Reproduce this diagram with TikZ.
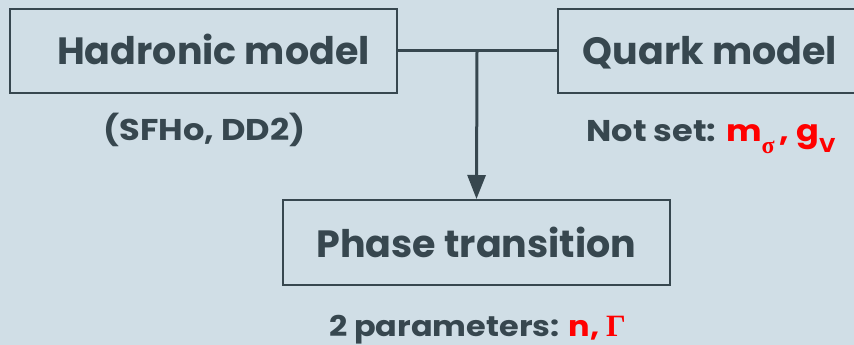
\documentclass[tikz,border=0pt]{standalone}
\usepackage{fontspec}
\setmainfont{Poppins}
\newfontfamily\notefont{Poppins}[FakeStretch=1.12]
\newfontfamily\grk{Liberation Serif}
\usetikzlibrary{arrows.meta}
\definecolor{bg}{HTML}{D0DEE6}
\definecolor{ink}{HTML}{37474F}
\definecolor{hl}{HTML}{FF0000}
\tikzset{
  box/.style={draw=ink, line width=2pt, rectangle, inner sep=0pt, text=ink},
  title/.style={text=ink, font=\fontsize{38}{40}\selectfont\bfseries, inner sep=0pt, anchor=base},
  note/.style={text=ink, font=\notefont\fontsize{30}{32}\selectfont\bfseries, inner sep=0pt, anchor=base},
  conn/.style={draw=ink, line width=3pt},
}
\begin{document}
\begin{tikzpicture}[x=1pt,y=-1pt]
\useasboundingbox (0,0) rectangle (854,345);
\fill[bg] (0,0) rectangle (854,345);
\begin{scope}
\clip (0,0) rectangle (854,345);
\node[box, minimum width=387pt, minimum height=84pt] (had) at (203.5,51) {};
\node[title] (hadt) at (213.5,65) {Hadronic model};
\node[box, minimum width=304pt, minimum height=84pt] (quark) at (710,51) {};
\node[title] (quarkt) at (710,65) {Quark model};
\node[box, minimum width=387pt, minimum height=85pt] (phase) at (476.5,242.5) {};
\node[title] (phaset) at (476.5,257) {Phase transition};
\coordinate (j) at (477,51);
\draw[conn] (had.east) -- (quark.west);
\draw[conn, -{Triangle[width=18pt,length=24pt]}] (j) -- (phase.north);
\node[note] (hadn) at (204.5,140) {(SFHo, DD2)};
\node[note] (quarkn) at (711,141) {Not set: \textcolor{hl}{m\raisebox{-12pt}{\fontsize{24}{24}\grk\bfseries σ}\kern5pt, g\raisebox{-11pt}{\fontsize{20}{20}\selectfont V}}};
\node[note, font=\notefont\fontsize{28.5}{30}\selectfont\bfseries] (phasen) at (477.5,336) {2 parameters: \textcolor{hl}{n, {\fontsize{31}{31}\grk\bfseries Γ}}};
\end{scope}
\end{tikzpicture}
\end{document}
